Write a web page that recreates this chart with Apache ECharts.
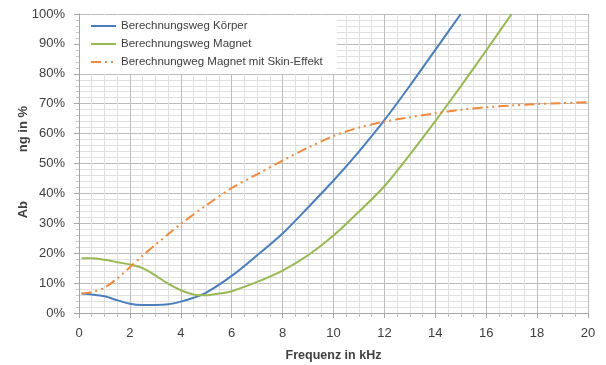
<!DOCTYPE html>
<html>
<head>
<meta charset="utf-8">
<script src="https://cdn.jsdelivr.net/npm/echarts@6/dist/echarts.min.js"></script>
<style>
  html, body { margin: 0; padding: 0; background: #fff; }
  #chart { width: 606px; height: 365px; }
</style>
</head>
<body>
<div id="chart"></div>
<script>
// Frequency (kHz) and percentage values for each calculation method
const xKoerper = [0.1, 0.5, 1, 1.5, 2, 2.5, 3, 3.5, 4, 4.5, 5, 6, 7, 8, 9, 10, 11, 12, 13, 14, 15];
const yKoerper = [6.5, 6.2, 5.6, 4.3, 3.1, 2.7, 2.7, 2.9, 3.8, 5.1, 6.8, 12.4, 19.3, 26.6, 35.3, 44.3, 54.0, 64.5, 76.0, 88.0, 100];

const xMagnet = [0.1, 0.5, 1, 1.5, 2, 2.5, 3, 3.5, 4, 4.5, 5, 5.5, 6, 7, 8, 9, 10, 11, 12, 13, 14, 15, 16, 17];
const yMagnet = [18.3, 18.3, 17.8, 17.0, 16.2, 15.0, 12.6, 9.8, 7.6, 6.2, 5.9, 6.5, 7.3, 10.4, 14.2, 19.3, 25.9, 33.9, 42.4, 53.0, 64.2, 75.8, 87.8, 100];

const xSkin = [0.1, 0.5, 1, 1.5, 2, 2.5, 3, 3.5, 4, 5, 6, 7, 8, 9, 10, 11, 12, 13, 14, 15, 16, 17, 18, 19, 20];
const ySkin = [6.5, 7.0, 8.5, 11.5, 15.3, 19.2, 22.8, 26.3, 29.8, 36, 41.8, 46.4, 51, 55.3, 59.2, 62, 64, 65.5, 66.8, 68, 68.8, 69.4, 69.9, 70.2, 70.5];

const seriesNames = ['Berechnungsweg Körper', 'Berechnungsweg Magnet', 'Berechnungweg Magnet mit Skin-Effekt'];
const xAxisTitle = 'Frequenz in kHz';
const yTitleParts = ['Ab', 'ng in %'];

const pairs = (xs, ys) => xs.map((x, i) => [x, ys[i]]);

const font = '"Liberation Sans", Arial, sans-serif';
const textColor = '#404040';

const chart = echarts.init(document.getElementById('chart'), null, { renderer: 'canvas' });

chart.setOption({
  animation: false,
  backgroundColor: '#ffffff',
  grid: { left: 79, right: 18, top: 14, bottom: 52, containLabel: false, outerBoundsMode: 'none' },
  legend: {
    show: true,
    orient: 'vertical',
    left: 80,
    top: 15,
    padding: [5, 14, 6, 10],
    itemGap: 6,
    itemWidth: 25,
    itemHeight: 12,
    backgroundColor: '#ffffff',
    itemStyle: { opacity: 0 },
    textStyle: { fontFamily: font, fontSize: 11.5, color: textColor },
    data: seriesNames
  },
  xAxis: {
    type: 'value',
    min: 0,
    max: 20,
    interval: 2,
    name: xAxisTitle,
    nameLocation: 'middle',
    nameGap: 36,
    nameTextStyle: { fontFamily: font, fontSize: 12.5, fontWeight: 'bold', color: textColor },
    axisLine: { show: true, lineStyle: { color: '#a6a6a6', width: 1 } },
    axisTick: { show: true, length: 5, lineStyle: { color: '#a6a6a6' } },
    minorTick: { show: true, splitNumber: 4, length: 4, lineStyle: { color: '#bdbdbd' } },
    axisLabel: { margin: 14, fontFamily: font, fontSize: 13, color: textColor },
    splitLine: { show: true, lineStyle: { color: '#bdbdbd', width: 1 } },
    minorSplitLine: { show: true, lineStyle: { color: '#e0e0e0', width: 1 } }
  },
  yAxis: {
    type: 'value',
    min: 0,
    max: 100,
    interval: 10,
    axisLine: { show: true, lineStyle: { color: '#a6a6a6', width: 1 } },
    axisTick: { show: true, length: 5, lineStyle: { color: '#a6a6a6' } },
    minorTick: { show: true, splitNumber: 5, length: 3, lineStyle: { color: '#c8c8c8' } },
    axisLabel: { margin: 14, fontFamily: font, fontSize: 13, color: textColor, formatter: '{value}%' },
    splitLine: { show: true, lineStyle: { color: '#bdbdbd', width: 1 } },
    minorSplitLine: { show: true, lineStyle: { color: '#e0e0e0', width: 1 } }
  },
  graphic: [
    {
      type: 'text', left: 17, top: 201, rotation: Math.PI / 2,
      style: { text: yTitleParts[0], font: 'bold 13px ' + font, fill: textColor }
    },
    {
      type: 'text', left: 17, top: 106, rotation: Math.PI / 2,
      style: { text: yTitleParts[1], font: 'bold 13px ' + font, fill: textColor }
    }
  ],
  series: [
    {
      name: seriesNames[0], type: 'line', data: pairs(xKoerper, yKoerper),
      smooth: 0.3, symbol: 'none',
      lineStyle: { color: '#4a7ebb', width: 2 }, itemStyle: { color: '#4a7ebb' }
    },
    {
      name: seriesNames[1], type: 'line', data: pairs(xMagnet, yMagnet),
      smooth: 0.3, symbol: 'none',
      lineStyle: { color: '#98b954', width: 2 }, itemStyle: { color: '#98b954' }
    },
    {
      name: seriesNames[2], type: 'line', data: pairs(xSkin, ySkin),
      smooth: 0.3, symbol: 'none',
      lineStyle: { color: '#f08a3e', width: 2, type: [10, 4, 2, 4, 2, 4] }, itemStyle: { color: '#f08a3e' }
    }
  ]
});
</script>
</body>
</html>
